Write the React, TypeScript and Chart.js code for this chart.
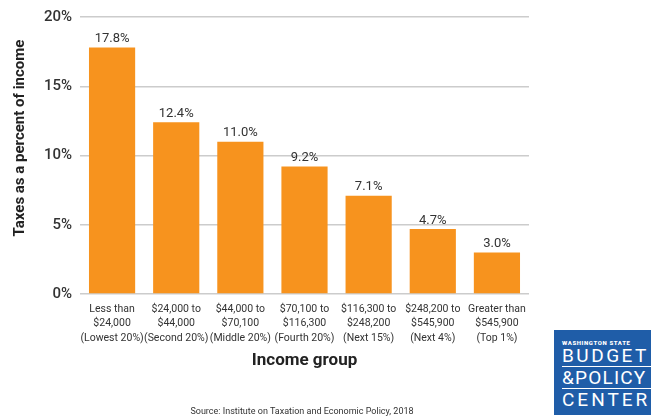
import React, { useEffect, useRef } from "react";
import { Chart, registerables } from "chart.js";

Chart.register(...registerables);

const categories: string[][] = [
  ["Less than", "$24,000", "(Lowest 20%)"],
  ["$24,000 to", "$44,000", "(Second 20%)"],
  ["$44,000 to", "$70,100", "(Middle 20%)"],
  ["$70,100 to", "$116,300", "(Fourth 20%)"],
  ["$116,300 to", "$248,200", "(Next 15%)"],
  ["$248,200 to", "$545,900", "(Next 4%)"],
  ["Greater than", "$545,900", "(Top 1%)"],
];
const taxShare: number[] = [17.8, 12.4, 11.0, 9.2, 7.1, 4.7, 3.0];
const yTicks: number[] = [0, 5, 10, 15, 20];
const yTitle = "Taxes as a percent of income";
const xTitle = "Income group";
const sourceText = "Source: Institute on Taxation and Economic Policy, 2018";

const FONT = "Roboto, 'Noto Sans', sans-serif";
const TEXT = "#333333";

const valueLabels = {
  id: "valueLabels",
  afterDatasetsDraw(chart: any) {
    const ctx = chart.ctx;
    const meta = chart.getDatasetMeta(0);
    ctx.save();
    ctx.font = `13px ${FONT}`;
    ctx.fillStyle = TEXT;
    ctx.textAlign = "center";
    ctx.textBaseline = "bottom";
    meta.data.forEach((bar: any, i: number) => {
      ctx.fillText(taxShare[i].toFixed(1) + "%", bar.x, bar.y - 2);
    });
    ctx.restore();
  },
};

const yTitlePlugin = {
  id: "yTitlePlugin",
  afterDraw(chart: any) {
    const ctx = chart.ctx;
    ctx.save();
    ctx.translate(20, 138);
    ctx.rotate(-Math.PI / 2);
    ctx.font = `bold 15px ${FONT}`;
    ctx.fillStyle = "#222222";
    ctx.textAlign = "center";
    ctx.textBaseline = "middle";
    ctx.fillText(yTitle, 0, 0);
    ctx.restore();
  },
};

export default function App() {
  const ref = useRef<HTMLCanvasElement | null>(null);
  useEffect(() => {
    if (!ref.current) return;
    const chart = new Chart(ref.current, {
      type: "bar",
      data: {
        labels: categories,
        datasets: [
          {
            data: taxShare,
            backgroundColor: "#F7931E",
            borderWidth: 0,
            barPercentage: 0.72,
            categoryPercentage: 1,
          },
        ],
      },
      options: {
        animation: false,
        responsive: false,
        maintainAspectRatio: false,
        layout: { padding: { left: 0, right: 122, top: 14, bottom: 0 } },
        plugins: {
          legend: { display: false },
          tooltip: { enabled: false },
        },
        scales: {
          x: {
            grid: { display: false, drawTicks: false },
            border: { display: false },
            ticks: {
              color: TEXT,
              font: { family: FONT, size: 10.5, lineHeight: 1.38 },
              padding: 8,
              maxRotation: 0,
              autoSkip: false,
            },
            title: {
              display: true,
              text: xTitle,
              color: "#222222",
              font: { family: FONT, size: 17, weight: "bold" },
              padding: { top: 0, bottom: 49 },
            },
            afterFit: (scale: any) => {
              scale.height = 126;
            },
          },
          y: {
            min: 0,
            max: 20,
            afterBuildTicks: (scale: any) => {
              scale.ticks = yTicks.map((v) => ({ value: v }));
            },
            grid: {
              color: "#cccccc",
              lineWidth: 1.5,
              drawTicks: false,
            },
            border: { display: false },
            ticks: {
              color: TEXT,
              font: { family: FONT, size: 15, weight: "500" },
              padding: 8,
              callback: (v: any) => v + "%",
            },
            afterFit: (scale: any) => {
              scale.width = 80;
            },
          },
        },
      },
      plugins: [valueLabels, yTitlePlugin],
    });
    return () => chart.destroy();
  }, []);

  return (
    <div
      style={{
        position: "absolute",
        left: 0,
        top: 0,
        width: 651,
        height: 420,
        background: "#ffffff",
        overflow: "hidden",
      }}
    >
      <canvas ref={ref} width={651} height={420} style={{ display: "block" }} />
      <div
        style={{
          position: "absolute",
          left: 0,
          width: 604,
          top: 406,
          textAlign: "center",
          fontFamily: FONT,
          fontSize: 9,
          color: TEXT,
        }}
      >
        {sourceText}
      </div>
      <div
        style={{
          position: "absolute",
          left: 554,
          top: 330,
          width: 110,
          height: 85,
          background: "#1F5DA8",
          color: "#ffffff",
          fontFamily: FONT,
          boxSizing: "border-box",
          paddingLeft: 8,
          paddingTop: 9,
        }}
      >
        <div style={{ fontSize: 6, fontWeight: 900, letterSpacing: 0.6, lineHeight: "7px" }}>
          WASHINGTON STATE
        </div>
        <div style={{ fontSize: 19, letterSpacing: 2.5, lineHeight: "20px", borderBottom: "1px solid #ffffff", width: 100 }}>
          BUDGET
        </div>
        <div style={{ fontSize: 19, letterSpacing: 1.2, lineHeight: "21px", borderBottom: "1px solid #ffffff", width: 100 }}>
          &amp;POLICY
        </div>
        <div style={{ fontSize: 19, letterSpacing: 3, lineHeight: "21px" }}>CENTER</div>
      </div>
    </div>
  );
}
